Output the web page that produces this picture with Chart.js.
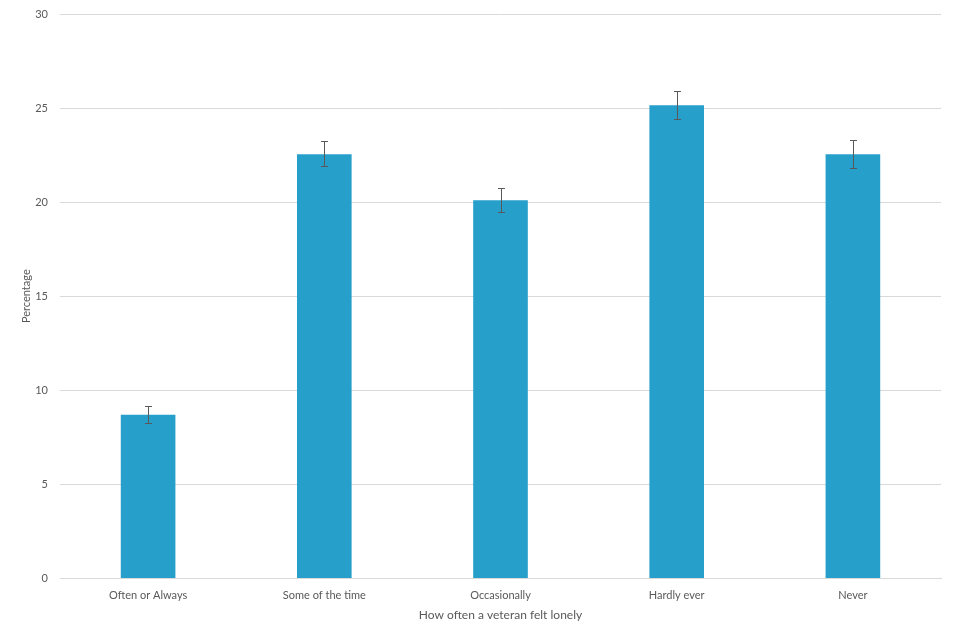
<!DOCTYPE html>
<html>
<head>
<meta charset="utf-8">
<script src="https://cdn.jsdelivr.net/npm/chart.js@4.4.0/dist/chart.umd.min.js"></script>
<style>
    html, body { margin: 0; padding: 0; background: #fff; }
    #wrap { width: 960px; height: 640px; }
</style>
</head>
<body>
<div id="wrap"><canvas id="lonelyChart"></canvas></div>
<script>
// Data
const categories = ['Often or Always', 'Some of the time', 'Occasionally', 'Hardly ever', 'Never'];
const percentages = [8.7, 22.55, 20.1, 25.15, 22.55];
const errLow = [8.25, 21.9, 19.45, 24.4, 21.8];
const errHigh = [9.15, 23.25, 20.75, 25.9, 23.3];
const yTicks = [0, 5, 10, 15, 20, 25, 30];

const textColor = '#595959';
const fontFamily = 'Lato, "Noto Sans", sans-serif';

// Draw error bars over each bar, through the chart's scales
const errorBarPlugin = {
    id: 'errorBars',
    afterDatasetsDraw(chart) {
        const c = chart.ctx;
        const yScale = chart.scales.y;
        const meta = chart.getDatasetMeta(0);
        c.save();
        c.strokeStyle = '#595959';
        c.lineWidth = 1;
        meta.data.forEach((bar, i) => {
            const x = Math.round(bar.x) + 0.5;
            const yLo = Math.round(yScale.getPixelForValue(errLow[i])) + 0.5;
            const yHi = Math.round(yScale.getPixelForValue(errHigh[i])) + 0.5;
            c.beginPath();
            c.moveTo(x, yLo);
            c.lineTo(x, yHi);
            c.moveTo(x - 3.5, yLo);
            c.lineTo(x + 3.5, yLo);
            c.moveTo(x - 3.5, yHi);
            c.lineTo(x + 3.5, yHi);
            c.stroke();
        });
        c.restore();
    }
};

const ctx = document.getElementById('lonelyChart').getContext('2d');
new Chart(ctx, {
    type: 'bar',
    data: {
        labels: categories,
        datasets: [{
            data: percentages,
            backgroundColor: '#279fcb',
            categoryPercentage: 0.31,
            barPercentage: 1.0
        }]
    },
    options: {
        responsive: true,
        maintainAspectRatio: false,
        animation: false,
        layout: { padding: { top: 0, right: 19, bottom: 18, left: 20 } },
        plugins: {
            legend: { display: false },
            tooltip: { enabled: false }
        },
        scales: {
            x: {
                grid: { display: false },
                border: { color: '#d9d9d9', width: 1 },
                ticks: { color: textColor, font: { family: fontFamily, size: 11 }, padding: 2 },
                title: {
                    display: true,
                    text: 'How often a veteran felt lonely',
                    color: textColor,
                    font: { family: fontFamily, size: 12 },
                    padding: { top: 4, bottom: 0 }
                }
            },
            y: {
                min: 0,
                max: 30,
                afterBuildTicks: (axis) => { axis.ticks = yTicks.map(v => ({ value: v })); },
                afterFit: (axis) => { axis.width = 40; axis.paddingTop = 14; },
                grid: { color: '#d9d9d9', drawTicks: false },
                border: { display: false },
                ticks: { color: textColor, font: { family: fontFamily, size: 11 }, padding: 12 },
                title: {
                    display: true,
                    text: 'Percentage',
                    color: textColor,
                    font: { family: fontFamily, size: 11 },
                    padding: { top: 0, bottom: 0 }
                }
            }
        }
    },
    plugins: [errorBarPlugin]
});
</script>
</body>
</html>
